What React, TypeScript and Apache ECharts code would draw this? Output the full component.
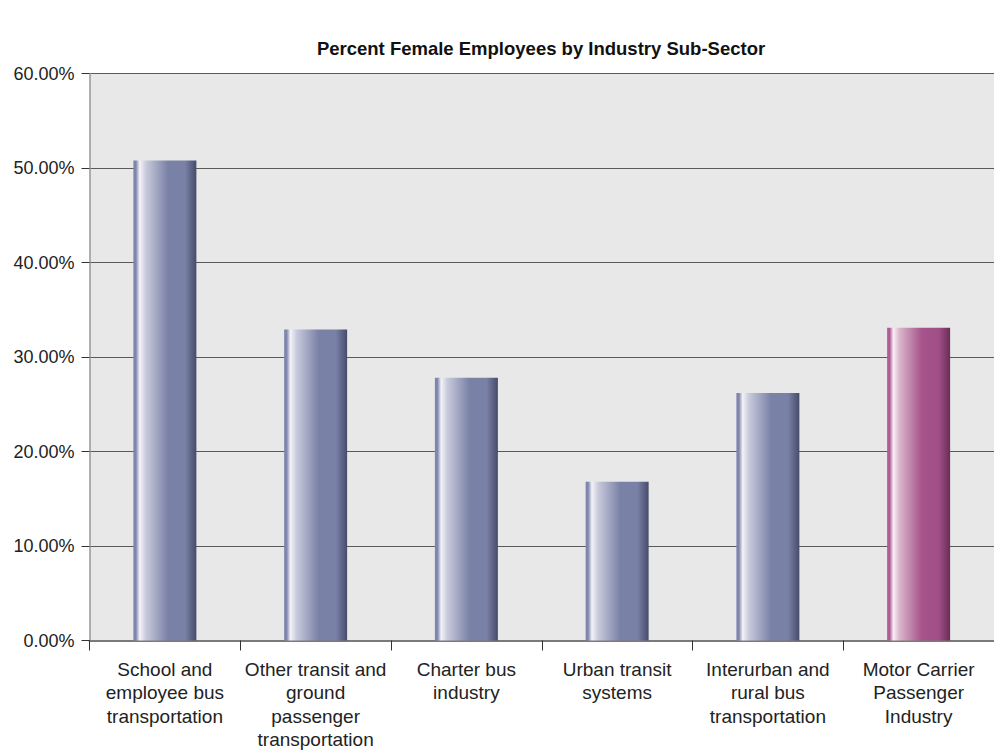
import React, { useEffect, useRef } from "react";
import * as echarts from "echarts";

const categories = [
  "School and\nemployee bus\ntransportation",
  "Other transit and\nground\npassenger\ntransportation",
  "Charter bus\nindustry",
  "Urban transit\nsystems",
  "Interurban and\nrural bus\ntransportation",
  "Motor Carrier\nPassenger\nIndustry",
];
const values = [0.508, 0.329, 0.278, 0.168, 0.262, 0.331];
const highlightIndex = [5];
const yTicks = { min: 0, max: 0.6, interval: 0.1 };

const FONT = "'Liberation Sans', Arial, sans-serif";

function grad(edge: string, light: string, mid: string, dark: string) {
  return new echarts.graphic.LinearGradient(0, 0, 1, 0, [
    { offset: 0, color: edge },
    { offset: 0.04, color: edge },
    { offset: 0.1, color: light },
    { offset: 0.2, color: "#c8cadb" },
    { offset: 0.55, color: mid },
    { offset: 0.82, color: mid },
    { offset: 1, color: dark },
  ]);
}
function gradPink() {
  return new echarts.graphic.LinearGradient(0, 0, 1, 0, [
    { offset: 0, color: "#b05a98" },
    { offset: 0.04, color: "#b05a98" },
    { offset: 0.1, color: "#f8eef4" },
    { offset: 0.2, color: "#d9b4c9" },
    { offset: 0.55, color: "#a6548b" },
    { offset: 0.82, color: "#a04f86" },
    { offset: 1, color: "#6a2d55" },
  ]);
}

export default function App() {
  const ref = useRef<HTMLDivElement>(null);
  useEffect(() => {
    if (!ref.current) return;
    const chart = echarts.init(ref.current, undefined, { renderer: "svg" });
    chart.setOption({
      animation: false,
      backgroundColor: "#ffffff",
      title: {
        text: "Percent Female Employees by Industry Sub-Sector",
        left: 536,
        textAlign: "center",
        top: 34,
        textStyle: { fontFamily: FONT, fontSize: 18.5, fontWeight: "bold", color: "#111" },
      },
      grid: {
        left: 89.5,
        width: 910,
        top: 73.5,
        height: 567,
        show: true,
        backgroundColor: "#e8e8e8",
        borderWidth: 0,
      },
      xAxis: {
        type: "category",
        data: categories,
        axisLine: { show: true, lineStyle: { color: "#7a7a7a", width: 2 } },
        axisTick: { show: true, length: 10, lineStyle: { color: "#333", width: 1 } },
        axisLabel: {
          interval: 0,
          margin: 17,
          fontFamily: FONT,
          fontSize: 19,
          color: "#222",
          lineHeight: 23.5,
        },
      },
      yAxis: {
        type: "value",
        min: yTicks.min,
        max: yTicks.max,
        interval: yTicks.interval,
        axisLine: { show: true, lineStyle: { color: "#999", width: 1.5 } },
        axisTick: { show: true, length: 8, lineStyle: { color: "#333" } },
        splitLine: { show: true, lineStyle: { color: "#5a5a5a", width: 1.2 } },
        axisLabel: {
          margin: 15,
          fontFamily: FONT,
          fontSize: 18,
          color: "#222",
          formatter: (v: number) => (v * 100).toFixed(2) + "%",
        },
      },
      series: [
        {
          type: "bar",
          barWidth: 63,
          data: values.map((v, i) => ({
            value: v,
            itemStyle: {
              color: highlightIndex.includes(i)
                ? gradPink()
                : grad("#7f86ad", "#f3f3f8", "#7a81a7", "#474b6a"),
            },
          })),
        },
      ],
    });
    return () => chart.dispose();
  }, []);
  return <div ref={ref} style={{ width: 994, height: 754, position: "absolute", left: 0, top: 0 }} />;
}
